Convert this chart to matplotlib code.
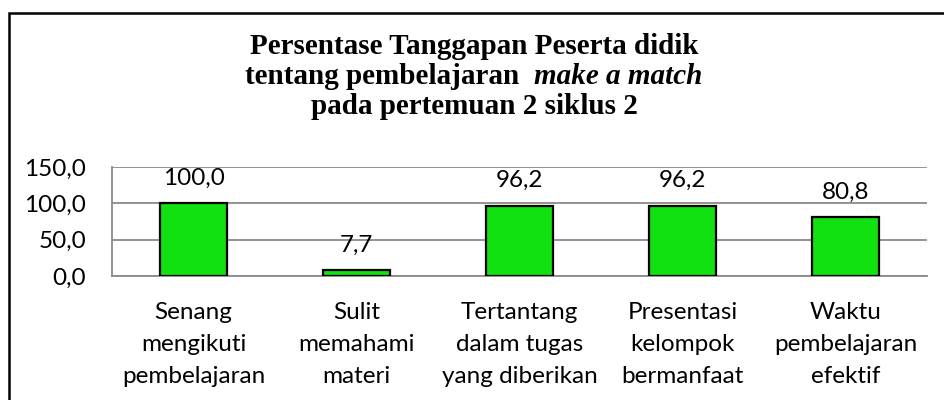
import matplotlib.pyplot as plt
from matplotlib.patches import Rectangle

# data
categories = [
    "Senang\nmengikuti\npembelajaran",
    "Sulit\nmemahami\nmateri",
    "Tertantang\ndalam tugas\nyang diberikan",
    "Presentasi\nkelompok\nbermanfaat",
    "Waktu\npembelajaran\nefektif",
]
values = [100.0, 7.7, 96.2, 96.2, 80.8]
yticks = [0, 50, 100, 150]

W, H = 944, 400
FS = 17.5
fig = plt.figure(figsize=(W / 100, H / 100), dpi=100)

# outer chart border (only left and top visible in the reference)
fig.patches.append(
    Rectangle((9 / W, -0.1), 1.2, (H - 13) / H + 0.1, transform=fig.transFigure,
              fill=False, edgecolor="black", linewidth=1.8)
)

ax = fig.add_axes([112 / W, (H - 276) / H, (927 - 112) / W, (276 - 167) / H])
x = range(len(values))
ax.bar(x, values, width=0.405, color="#11E011", edgecolor="black", linewidth=1.6, zorder=3)

for i, v in enumerate(values):
    ax.text(i, v + 26, f"{v:.1f}".replace(".", ","), ha="center", va="baseline",
            fontsize=FS, family="Lato", zorder=4)

ax.set_xlim(-0.5, len(values) - 0.5)
ax.set_ylim(0, 150)
ax.set_yticks(yticks)
ax.set_yticklabels([f"{t:.1f}".replace(".", ",") for t in yticks], fontsize=FS, family="Lato")
ax.set_xticks(list(x))
ax.set_xticklabels(categories, fontsize=FS, family="Lato", linespacing=1.65)
ax.tick_params(length=0)
ax.tick_params(axis="y", pad=18.5)
ax.tick_params(axis="x", pad=19)
ax.grid(axis="y", color="#8a8a8a", linewidth=1.3, zorder=0)
for s in ["top", "right"]:
    ax.spines[s].set_visible(False)
for s in ["left", "bottom"]:
    ax.spines[s].set_color("#8a8a8a")
    ax.spines[s].set_linewidth(1.3)

# title, second line has an italic part
TFS = 21
tx = 474 / W
tkw = dict(fontsize=TFS, fontweight="bold", family="Liberation Serif", va="center")
fig.text(tx, 1 - 47 / H, "Persentase Tanggapan Peserta didik", ha="center", **tkw)
fig.text(tx, 1 - 107 / H, "pada pertemuan 2 siklus 2", ha="center", **tkw)

t1 = fig.text(0, 1 - 77 / H, "tentang pembelajaran  ", ha="left", **tkw)
t2 = fig.text(0, 1 - 77 / H, "make a match", ha="left", style="italic", **tkw)
r = fig.canvas.get_renderer()
w1 = t1.get_window_extent(r).width / W
w2 = t2.get_window_extent(r).width / W
start = tx - (w1 + w2) / 2
t1.set_x(start)
t2.set_x(start + w1)

fig.savefig("out.png", dpi=100)
